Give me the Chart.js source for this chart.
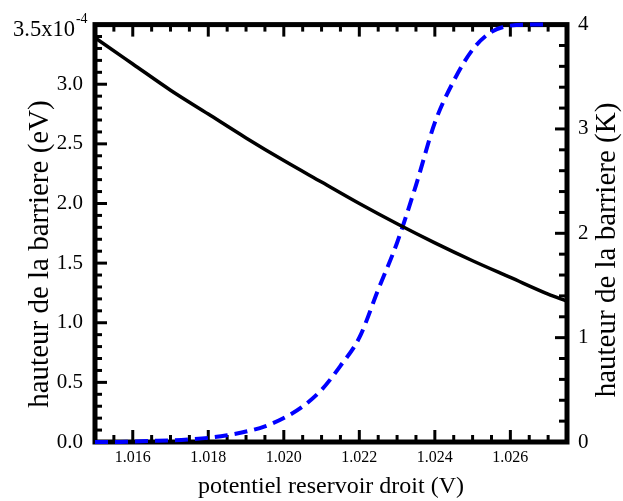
<!DOCTYPE html>
<html>
<head>
<meta charset="utf-8">
<script src="https://cdn.jsdelivr.net/npm/chart.js@4.4.0/dist/chart.umd.min.js"></script>
<style>
  html, body { margin: 0; padding: 0; background: #fff; }
  #wrap { width: 623px; height: 501px; }
</style>
</head>
<body>
<div id="wrap"><canvas id="barrierChart" width="623" height="501"></canvas></div>
<script>
// Black curve: barrier height in units of 1e-4 eV (left axis)
const potentialBlack = [1.015, 1.016, 1.017, 1.018, 1.019, 1.020, 1.021, 1.022, 1.023, 1.024, 1.025, 1.026, 1.027, 1.0275];
const barrierEV = [3.39, 3.17, 2.95, 2.75, 2.55, 2.36, 2.18, 2.00, 1.83, 1.67, 1.52, 1.38, 1.24, 1.18];

// Blue dashed curve: barrier height in K (right axis)
const potentialBlue = [1.015, 1.0155, 1.016, 1.0165, 1.017, 1.0175, 1.018, 1.0185, 1.019, 1.0195, 1.020, 1.0205,
  1.021, 1.0215, 1.022, 1.0225, 1.023, 1.0235, 1.024, 1.0245, 1.025, 1.0255, 1.026, 1.0265, 1.027];
const barrierK = [0.00, 0.00, 0.005, 0.01, 0.015, 0.025, 0.04, 0.065, 0.10, 0.15, 0.23, 0.34,
  0.50, 0.73, 1.00, 1.46, 1.91, 2.46, 3.06, 3.46, 3.76, 3.93, 3.99, 4.00, 4.00];

// Tick labels
const xTicks = [1.016, 1.018, 1.020, 1.022, 1.024, 1.026];
const leftTicks = [0.0, 0.5, 1.0, 1.5, 2.0, 2.5, 3.0, 3.5];
const rightTicks = [0, 1, 2, 3, 4];

const xTitle = 'potentiel reservoir droit (V)';
const leftTitle = 'hauteur de la barriere (eV)';
const rightTitle = 'hauteur de la barriere (K)';

const SERIF = "'Liberation Serif', 'Times New Roman', serif";

// Frame + inward ticks go under the curves (curves overlap the frame in the original)
const frameAndTicks = {
    id: 'frameAndTicks',
    beforeDatasetsDraw(chart) {
        const { ctx, chartArea: a, scales } = chart;
        const line = (x1, y1, x2, y2) => {
            ctx.beginPath();
            ctx.moveTo(x1, y1);
            ctx.lineTo(x2, y2);
            ctx.stroke();
        };
        const steps = (min, max, step) => {
            const out = [];
            const k0 = Math.ceil(min / step - 1e-6);
            const k1 = Math.floor(max / step + 1e-6);
            for (let k = k0; k <= k1; k++) out.push(k * step);
            return out;
        };
        const isMajor = (v, list) => list.some(t => Math.abs(t - v) < 1e-7);

        ctx.save();
        ctx.strokeStyle = '#000';
        ctx.lineWidth = 3;
        ctx.lineCap = 'butt';

        // bottom + top ticks
        steps(scales.x.min, scales.x.max, 0.0005).forEach(v => {
            const px = scales.x.getPixelForValue(v);
            const len = isMajor(v, xTicks) ? 12 : 7;
            line(px, a.bottom, px, a.bottom - len);
            line(px, a.top, px, a.top + len);
        });
        // left ticks
        steps(scales.y.min, scales.y.max, 0.1).forEach(v => {
            const py = scales.y.getPixelForValue(v);
            const len = isMajor(v, leftTicks) ? 12 : 7;
            line(a.left, py, a.left + len, py);
        });
        // right ticks
        steps(scales.y1.min, scales.y1.max, 0.2).forEach(v => {
            const py = scales.y1.getPixelForValue(v);
            const len = isMajor(v, rightTicks) ? 12 : 8;
            line(a.right, py, a.right - len, py);
        });

        // frame
        ctx.lineWidth = 5;
        ctx.strokeRect(a.left, a.top, a.right - a.left, a.bottom - a.top);
        ctx.restore();
    },
    afterDraw(chart) {
        const { ctx, scales } = chart;
        ctx.save();
        ctx.fillStyle = '#000';

        // top-left label with exponent
        ctx.textBaseline = 'alphabetic';
        ctx.textAlign = 'left';
        const yTop = scales.y.getPixelForValue(3.5);
        ctx.font = '22.5px ' + SERIF;
        ctx.fillText('3.5x10', 13, yTop + 11);
        const w = ctx.measureText('3.5x10').width;
        ctx.font = '14px ' + SERIF;
        ctx.fillText('-4', 13 + w + 1, yTop - 2);

        // side titles
        ctx.font = '29px ' + SERIF;
        ctx.textAlign = 'center';
        ctx.textBaseline = 'middle';
        ctx.save();
        ctx.translate(40, 254);
        ctx.rotate(-Math.PI / 2);
        ctx.fillText(leftTitle, 0, 0);
        ctx.restore();
        ctx.save();
        ctx.translate(607, 250);
        ctx.rotate(-Math.PI / 2);
        ctx.fillText(rightTitle, 0, 0);
        ctx.restore();

        ctx.restore();
    }
};

const fixTicks = list => scale => {
    scale.ticks = list.map(v => ({ value: v }));
};

const chart = new Chart(document.getElementById('barrierChart').getContext('2d'), {
    type: 'line',
    data: {
        datasets: [
            {
                label: 'hauteur (eV)',
                data: potentialBlack.map((x, i) => ({ x, y: barrierEV[i] })),
                borderColor: '#000',
                borderWidth: 3.5,
                pointRadius: 0,
                fill: false,
                clip: false,
                cubicInterpolationMode: 'monotone',
                xAxisID: 'x',
                yAxisID: 'y'
            },
            {
                label: 'hauteur (K)',
                data: potentialBlue.map((x, i) => ({ x, y: barrierK[i] })),
                borderColor: '#0000ff',
                borderWidth: 4,
                borderDash: [13, 7],
                pointRadius: 0,
                fill: false,
                clip: false,
                cubicInterpolationMode: 'monotone',
                xAxisID: 'x',
                yAxisID: 'y1'
            }
        ]
    },
    options: {
        responsive: false,
        animation: false,
        layout: { padding: { top: 20, left: 0, right: 0, bottom: 0 } },
        plugins: {
            legend: { display: false },
            tooltip: { enabled: false }
        },
        scales: {
            x: {
                type: 'linear',
                position: 'bottom',
                min: 1.015,
                max: 1.0275,
                afterBuildTicks: fixTicks(xTicks),
                afterFit: s => { s.height = 59; },
                grid: { display: false, drawTicks: false },
                border: { display: false },
                ticks: {
                    color: '#000',
                    padding: 6,
                    maxRotation: 0,
                    font: { family: SERIF, size: 16 },
                    callback: v => v.toFixed(3)
                },
                title: {
                    display: true,
                    text: xTitle,
                    color: '#000',
                    font: { family: SERIF, size: 24 },
                    padding: { top: 0, bottom: 0 }
                }
            },
            y: {
                type: 'linear',
                position: 'left',
                min: 0,
                max: 3.5,
                afterBuildTicks: fixTicks(leftTicks),
                afterFit: s => { s.width = 95; },
                grid: { display: false, drawTicks: false },
                border: { display: false },
                ticks: {
                    color: '#000',
                    padding: 12,
                    font: { family: SERIF, size: 21 },
                    callback: v => (v === 3.5 ? '' : v.toFixed(1))
                }
            },
            y1: {
                type: 'linear',
                position: 'right',
                min: 0,
                max: 4,
                afterBuildTicks: fixTicks(rightTicks),
                afterFit: s => { s.width = 56; },
                grid: { display: false, drawTicks: false },
                border: { display: false },
                ticks: {
                    color: '#000',
                    padding: 11,
                    font: { family: SERIF, size: 21 },
                    callback: v => String(v)
                }
            }
        }
    },
    plugins: [frameAndTicks]
});
</script>
</body>
</html>
